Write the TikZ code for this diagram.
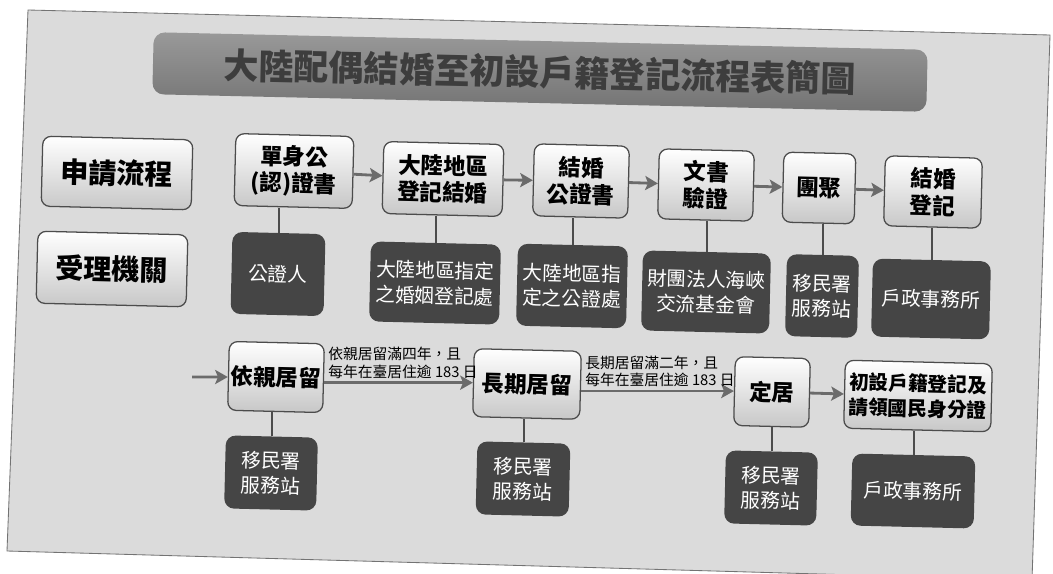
\documentclass[tikz,border=0pt]{standalone}
\usepackage{fontspec}
\usepackage{tikz}
\usetikzlibrary{arrows.meta}
\newfontfamily\cjk{Noto Sans CJK TC}
\definecolor{paper}{rgb}{0.86, 0.86, 0.86}
\definecolor{bar}{rgb}{0.52, 0.52, 0.52}
\definecolor{bartext}{rgb}{0.24, 0.24, 0.24}
\definecolor{office}{rgb}{0.27, 0.27, 0.27}
\definecolor{shade}{rgb}{0.78, 0.78, 0.78}
\definecolor{flowgray}{rgb}{0.42, 0.42, 0.42}

\tikzset{
  stage/.style={draw=black!70, line width=0.9pt, rounded corners=6pt, top color=white, bottom color=shade,
    font=\cjk\bfseries\fontsize{16pt}{19pt}\selectfont, align=center, inner sep=1pt, rotate=-1.4},
  heading/.style={stage, font=\cjk\bfseries\fontsize{20pt}{24pt}\selectfont},
  agency/.style={fill=office, rounded corners=7pt, text=white,
    font=\cjk\fontsize{14pt}{18pt}\selectfont, align=center, inner sep=1pt, rotate=-1.4},
  titlebar/.style={rounded corners=8pt, top color=black!40, bottom color=black!55, text=bartext,
    font=\cjk\bfseries\fontsize{25pt}{28pt}\selectfont, rotate=-1.3},
  flow/.style={draw=flowgray, line width=2pt, -{Stealth[length=9pt, width=10pt, inset=2pt]}},
  link/.style={draw=black!70, line width=1.4pt},
  rule/.style={font=\cjk\fontsize{10.5pt}{12.5pt}\selectfont, align=left, inner sep=2pt}
}

\begin{document}
\begin{tikzpicture}[x=0.025cm, y=-0.025cm]
  \useasboundingbox (0,0) rectangle (1053,573);
  \fill[white] (0,0) rectangle (1053,573);
  \draw[fill=paper, draw=black!55, line width=0.6pt] (28,10) -- (1050,35) -- (1032,580) -- (7,551) -- cycle;

  \node[titlebar, minimum width=19.35cm, minimum height=1.55cm] (title) at (540,72) {大陸配偶結婚至初設戶籍登記流程表簡圖};

  % row labels
  \node[heading, minimum width=3.75cm, minimum height=1.75cm] (apply) at (117,173) {申請流程};
  \node[heading, minimum width=3.75cm, minimum height=1.8cm] (accept) at (112,269) {受理機關};

  % marriage steps
  \node[stage, minimum width=2.95cm, minimum height=1.8cm] (s1) at (294,171) {單身公\\(認)證書};
  \node[stage, minimum width=3.0cm, minimum height=1.8cm] (s2) at (443,179) {大陸地區\\登記結婚};
  \node[stage, minimum width=2.375cm, minimum height=1.8cm] (s3) at (581,181) {結婚\\公證書};
  \node[stage, minimum width=2.375cm, minimum height=1.75cm] (s4) at (706,185) {文書\\驗證};
  \node[stage, minimum width=1.8cm, minimum height=1.75cm] (s5) at (819,188) {團聚};
  \node[stage, minimum width=2.425cm, minimum height=1.75cm] (s6) at (933,192) {結婚\\登記};

  \node[agency, minimum width=2.325cm, minimum height=2.05cm] (o1) at (278,274) {公證人};
  \node[agency, minimum width=3.25cm, minimum height=2.0cm] (o2) at (435,283) {大陸地區指定\\之婚姻登記處};
  \node[agency, minimum width=2.75cm, minimum height=2.05cm] (o3) at (572,286) {大陸地區指\\定之公證處};
  \node[agency, minimum width=3.2cm, minimum height=2.0cm] (o4) at (706,292) {財團法人海峽\\交流基金會};
  \node[agency, minimum width=1.8cm, minimum height=2.05cm] (o5) at (822,296) {移民署\\服務站};
  \node[agency, minimum width=2.95cm, minimum height=1.95cm] (o6) at (931,299) {戶政事務所};

  % residence steps
  \node[stage, minimum width=2.375cm, minimum height=1.72cm] (r1) at (276,377) {依親居留};
  \node[stage, minimum width=2.675cm, minimum height=1.7cm] (r2) at (527,384) {長期居留};
  \node[stage, minimum width=1.875cm, minimum height=1.72cm] (r3) at (772,392) {定居};
  \node[stage, minimum width=3.675cm, minimum height=1.7cm, font=\cjk\bfseries\fontsize{14pt}{18pt}\selectfont] (r4) at (918,396) {初設戶籍登記及\\請領國民身分證};

  \node[agency, minimum width=2.3cm, minimum height=1.825cm] (q1) at (271,473) {移民署\\服務站};
  \node[agency, minimum width=2.325cm, minimum height=1.825cm] (q2) at (523,479) {移民署\\服務站};
  \node[agency, minimum width=2.3cm, minimum height=1.825cm] (q3) at (771,488) {移民署\\服務站};
  \node[agency, minimum width=3.075cm, minimum height=1.8cm] (q4) at (913,491) {戶政事務所};

  \foreach \a/\b in {s1/s2, s2/s3, s3/s4, s4/s5, s5/s6, r3/r4}
    \draw[flow] (\a) -- (\b);
  \foreach \a/\b in {s1/o1, s2/o2, s3/o3, s4/o4, s5/o5, s6/o6, r1/q1, r2/q2, r3/q3, r4/q4}
    \draw[link] (\b.north) -- (\b.north |- \a.south);

  \coordinate (entry) at (192,377);
  \draw[flow] (entry) -- (r1);
  \draw[flow] (r2.west -| r1.east) -- node[rule, pos=0, anchor=south west] {依親居留滿四年，且\\每年在臺居住逾 183 日} (r2.west);
  \draw[flow] (r3.west -| r2.east) -- node[rule, pos=0, anchor=south west] {長期居留滿二年，且\\每年在臺居住逾 183 日} (r3.west);
  %\draw (r4.east) -- ++(20,0);
\end{tikzpicture}
\end{document}
